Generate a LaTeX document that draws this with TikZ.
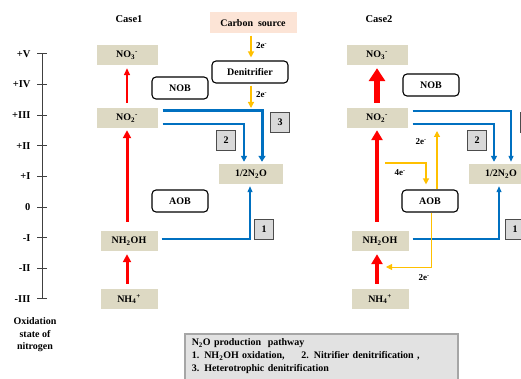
\documentclass[tikz,border=0pt]{standalone}
\usepackage{fontspec}
\setmainfont{Liberation Serif}
\usetikzlibrary{arrows.meta}
\definecolor{tan}{HTML}{DDD9C3}
\definecolor{peach}{HTML}{FCE4D6}
\definecolor{nblue}{HTML}{0070C0}
\definecolor{eorange}{HTML}{FFC000}
\definecolor{numgray}{HTML}{D9D9D9}
\definecolor{lgndgray}{HTML}{E2E2E2}

\begin{document}
\begin{tikzpicture}[x=1pt,y=-1pt,
            every node/.style={font=\bfseries\fontsize{10}{12}\selectfont},
            species/.style={fill=tan,minimum width=60pt,minimum height=20pt,inner sep=0pt},
            microbe/.style={draw,rounded corners=4pt,line width=1.1pt,fill=white,
                minimum width=56pt,minimum height=22pt,inner sep=0pt},
            pathnum/.style={draw=black!70,fill=numgray,line width=0.8pt,
                minimum width=19pt,minimum height=20pt,inner sep=0pt},
            eltext/.style={font=\bfseries\fontsize{9}{11}\selectfont,inner sep=1pt},
            redone/.style={red,line width=1.5pt,-{Triangle[length=7pt,width=6pt]}},
            redtwo/.style={red,line width=3pt,-{Triangle[length=8pt,width=8pt]}},
            redthree/.style={red,line width=4.5pt,-{Triangle[length=10pt,width=11pt]}},
            redfour/.style={red,line width=6pt,-{Triangle[length=13pt,width=16pt]}},
            bluethick/.style={nblue,line width=3pt,-{Triangle[length=6pt,width=7pt]}},
            bluemid/.style={nblue,line width=1.8pt,-{Triangle[length=6pt,width=6pt]}},
            bluethin/.style={nblue,line width=1.2pt,-{Triangle[length=6pt,width=5pt]}},
            eline/.style={eorange,line width=1.2pt,-{Triangle[length=6pt,width=6pt]}},
            elinethin/.style={eorange,line width=0.8pt,-{Triangle[length=6pt,width=6pt]}}]
            \useasboundingbox (0,0) rectangle (521,379);
            \draw[line width=1pt,black!75] (42,54) -- (42,299);
            \foreach \lab [count=\i from 0] in {+V,+IV,+III,+II,+I,0,-I,-II,-III}{
                \draw[line width=1pt,black!75] (37,54+30.6*\i) -- (47,54+30.6*\i);
                \node[anchor=east,font=\bfseries\fontsize{10.5}{12}\selectfont] (ox\i) at (34,54+30.6*\i) {\lab};
            }
            \node[align=center,font=\bfseries\fontsize{10}{12.5}\selectfont] (oxlab) at (35,335) {Oxidation\\state of\\nitrogen};
            \node[font=\bfseries\fontsize{10.5}{12}\selectfont] (casea) at (129,19) {Case1};
            \node[font=\bfseries\fontsize{10.5}{12}\selectfont] (caseb) at (379,19) {Case2};

            \node[species,minimum width=61pt] (no3a) at (127,55) {NO\textsubscript{3}\textsuperscript{-}};
            \node[species,minimum width=61pt] (no2a) at (127,118) {NO\textsubscript{2}\textsuperscript{-}};
            \node[species,minimum width=57pt] (nh2a) at (129,241) {NH\textsubscript{2}OH};
            \node[species,minimum width=57pt] (nh4a) at (129,299) {NH\textsubscript{4}\textsuperscript{+}};
            \node[species,minimum width=64pt] (n2oa) at (251,174) {1/2N\textsubscript{2}O};
            \node[microbe] (noba) at (180,88) {NOB};
            \node[microbe] (aoba) at (180,201) {AOB};
            \node[fill=peach,minimum width=87pt,minimum height=21pt] (cs) at (253,23) {Carbon\ \ source};
            \node[microbe,minimum width=76pt] (den) at (250,72) {Denitrifier};
            \node[pathnum] (p2a) at (226,140) {2};
            \node[pathnum] (p3a) at (280,122) {3};
            \node[pathnum] (p1a) at (264,229) {1};

            \draw[redone,shorten <=5pt,shorten >=3pt] (no2a.north) -- (no3a.south);
            \draw[redtwo,shorten <=9pt,shorten >=2pt] (nh2a.north -| no2a) -- (no2a.south);
            \draw[redtwo,shorten <=5pt,shorten >=3pt] (nh4a.north -| no2a) -- (nh2a.south -| no2a);
            \draw[bluethick] ([xshift=5pt,yshift=7pt]no2a.east) -| ([xshift=11pt,yshift=2pt]n2oa.north);
            \draw[bluemid] ([xshift=5pt,yshift=-6pt]no2a.east) -| ([xshift=-7pt,yshift=2pt]n2oa.north);
            \draw[bluethin] ([xshift=4pt,yshift=2pt]nh2a.east) -| ([xshift=-1pt,yshift=-2pt]n2oa.south);
            \coordinate (dtip) at (251,108);
            \draw[eline,shorten <=2pt,shorten >=3pt] ([xshift=-2pt]cs.south) -- ([xshift=-2pt]cs.south |- den.north);
            \draw[eline,shorten <=2pt] (den.south -| dtip) -- (dtip);
            \node[eltext,anchor=west] (ea) at (255,46) {2e\textsuperscript{-}};
            \node[eltext,anchor=west] (eb) at (255,95) {2e\textsuperscript{-}};

            \node[species,minimum width=61pt] (no3b) at (377,55) {NO\textsubscript{3}\textsuperscript{-}};
            \node[species,minimum width=61pt] (no2b) at (377,118) {NO\textsubscript{2}\textsuperscript{-}};
            \node[species,minimum width=57pt] (nh2b) at (380,241) {NH\textsubscript{2}OH};
            \node[species,minimum width=57pt] (nh4b) at (380,299) {NH\textsubscript{4}\textsuperscript{+}};
            \node[species,minimum width=64pt] (n2ob) at (501,174) {1/2N\textsubscript{2}O};
            \node[microbe] (nobb) at (431,85) {NOB};
            \node[microbe] (aobb) at (430,201) {AOB};
            \node[pathnum] (p2b) at (477,140) {2};
            \node[pathnum] (p3b) at (530,122) {3};
            \node[pathnum] (p1b) at (515,229) {1};

            \draw[redfour,shorten <=5pt,shorten >=3pt] (no2b.north) -- (no3b.south);
            \draw[redthree,shorten <=9pt,shorten >=2pt] (nh2b.north -| no2b) -- (no2b.south);
            \draw[redthree,shorten <=5pt,shorten >=3pt] (nh4b.north -| no2b) -- (nh2b.south -| no2b);
            \draw[bluethin] ([xshift=5pt,yshift=7pt]no2b.east) -| ([xshift=10pt,yshift=2pt]n2ob.north);
            \draw[bluemid] ([xshift=5pt,yshift=-6pt]no2b.east) -| ([xshift=-7pt,yshift=2pt]n2ob.north);
            \draw[bluethin] ([xshift=4pt,yshift=2pt]nh2b.east) -| ([xshift=-2pt,yshift=-2pt]n2ob.south);
            \coordinate (fourin) at (385,163);
            \coordinate (twoup) at (437,131);
            \coordinate (twoback) at (386,267);
            \draw[eline,shorten >=5pt] (fourin) -| ([xshift=-4pt]aobb.north);
            \draw[eline] ([xshift=7pt]aobb.north) -- (twoup);
            \draw[elinethin] ([xshift=1pt]aobb.south) |- (twoback);
            \node[eltext] (ec) at (400,173) {4e\textsuperscript{-}};
            \node[eltext] (ed) at (421,142) {2e\textsuperscript{-}};
            \node[eltext] (ee) at (424,278) {2e\textsuperscript{-}};

            \node[draw=black!35,line width=1.5pt,fill=lgndgray,anchor=north west,
                text width=259pt,inner xsep=7pt,inner ysep=5pt,align=left,
                font=\bfseries\fontsize{10}{13}\selectfont] (lgd) at (184,333)
                {N\textsubscript{2}O production\ \ pathway\\
                1. NH\textsubscript{2}OH oxidation,\quad\ \ 2. Nitrifier denitrification ,\\
                3. Heterotrophic denitrification\\[6pt]\mbox{}};
        \end{tikzpicture}
\end{document}
